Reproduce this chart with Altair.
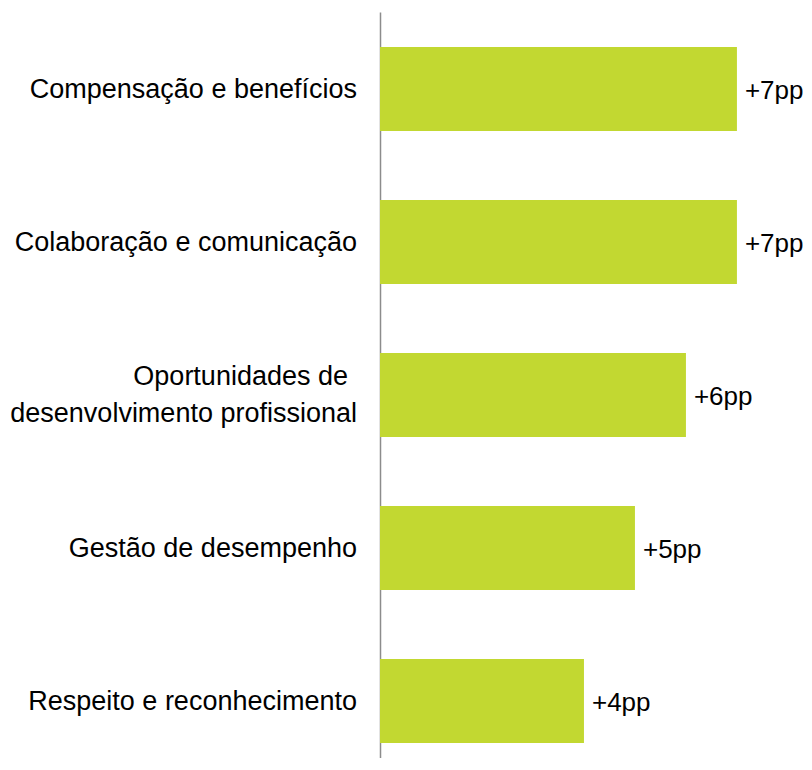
import altair as alt
import pandas as pd

categories = [
    "Compensação e benefícios",
    "Colaboração e comunicação",
    "Oportunidades de desenvolvimento profissional",
    "Gestão de desempenho",
    "Respeito e reconhecimento",
]
values = [7, 7, 6, 5, 4]
value_labels = ["+7pp", "+7pp", "+6pp", "+5pp", "+4pp"]

# category label lines (the long category wraps onto two lines)
label_cats = [
    "Compensação e benefícios",
    "Colaboração e comunicação",
    "Oportunidades de desenvolvimento profissional",
    "Oportunidades de desenvolvimento profissional",
    "Gestão de desempenho",
    "Respeito e reconhecimento",
]
label_lines = [
    "Compensação e benefícios",
    "Colaboração e comunicação",
    "Oportunidades de",
    "desenvolvimento profissional",
    "Gestão de desempenho",
    "Respeito e reconhecimento",
]
line_pos = ["single", "single", "first", "second", "single", "single"]

df = pd.DataFrame({"cat": categories, "val": values, "lab": value_labels})
df_lab = pd.DataFrame({"cat": label_cats, "txt": label_lines, "pos": line_pos})

FONT = "Liberation Sans, Arial, sans-serif"
FS = 27

y = alt.Y(
    "cat:N",
    sort=categories,
    scale=alt.Scale(paddingInner=0.45, paddingOuter=0.163, align=0.70),
    axis=alt.Axis(
        title=None,
        ticks=False,
        labels=False,
        grid=False,
        domain=True,
        domainColor="#8c8c8c",
        domainWidth=1.5,
    ),
)
x = alt.X(
    "val:Q",
    scale=alt.Scale(domain=[0, 8.08], nice=False),
    axis=None,
)

bars = alt.Chart(df).mark_bar(color="#c2d831").encode(x=x, y=y)
text = alt.Chart(df).mark_text(
    align="left", baseline="middle", dx=8, dy=2, font=FONT, fontSize=26, color="#000000"
).encode(x=x, y=y, text="lab:N")


def cat_layer(pos, dx, dy):
    return (
        alt.Chart(df_lab)
        .transform_filter(alt.datum.pos == pos)
        .mark_text(align="right", baseline="middle", dx=dx, dy=dy, font=FONT, fontSize=FS, color="#000000")
        .encode(x=alt.value(-23), y=y, text="txt:N")
    )


chart = (
    alt.layer(
        bars,
        text,
        cat_layer("single", 0, 1),
        cat_layer("first", -9, -18),
        cat_layer("second", 0, 19),
    )
    .properties(
        width=412,
        height=746,
        background="white",
        autosize=alt.AutoSizeParams(type="none"),
        padding={"left": 372, "top": 4, "right": 12, "bottom": 0},
    )
    .configure_view(stroke="transparent", strokeWidth=0)
)

chart.save("out.html", embed_options={"renderer": "svg", "actions": False})
